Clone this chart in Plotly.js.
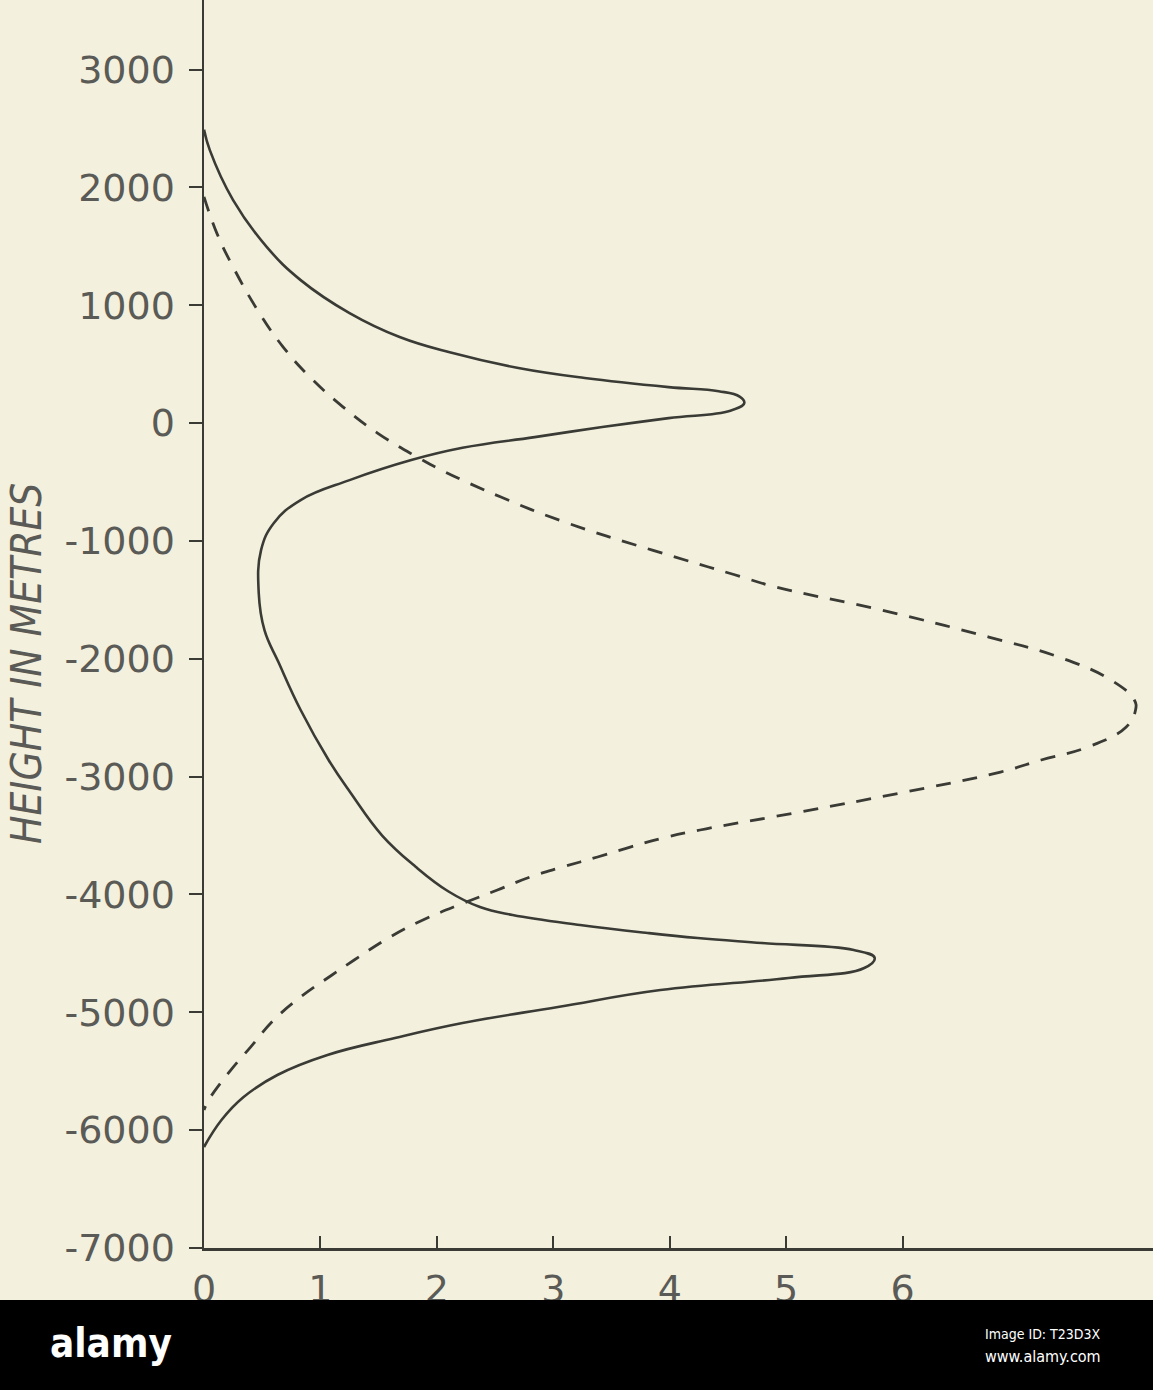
<!DOCTYPE html>
<html>
<head>
<meta charset="utf-8">
<script src="https://cdn.plot.ly/plotly-3.0.1.min.js"></script>
<style>html,body{margin:0;padding:0;background:#f3f0dd;}#chart{width:1153px;height:1390px;}</style>
</head>
<body>
<div id="chart"></div>
<script>
// Solid curve (x = quantity, y = height in metres)
var solidX = [0, 0.05, 0.25, 0.54, 0.83, 1.25, 1.68, 2.11, 2.70, 3.27, 3.99, 4.42, 4.60, 4.64, 4.52, 3.99, 3.42, 2.84, 2.22, 1.78, 1.25, 0.83, 0.60, 0.49, 0.47, 0.52, 0.64, 0.83, 1.07, 1.26, 1.53, 1.82, 2.10, 2.37, 2.65, 3.23, 3.81, 4.24, 4.79, 5.58, 5.76, 5.67, 5.02, 3.92, 3.04, 2.22, 1.64, 1.06, 0.63, 0.34, 0.15, 0];
var solidY = [2490, 2316, 1892, 1493, 1213, 933, 730, 600, 467, 382, 305, 270, 225, 170, 105, 42, -34, -119, -210, -314, -484, -653, -848, -1078, -1442, -1760, -2030, -2435, -2859, -3139, -3500, -3767, -3975, -4107, -4174, -4259, -4327, -4370, -4412, -4471, -4539, -4624, -4709, -4811, -4955, -5091, -5218, -5362, -5532, -5719, -5914, -6143];
// Dashed curve
var dashedX = [0, 0.11, 0.25, 0.46, 0.68, 0.91, 1.19, 1.49, 1.83, 2.03, 2.55, 3.12, 3.85, 4.55, 4.91, 5.82, 6.74, 7.34, 7.79, 7.99, 8.0, 7.92, 7.59, 7.19, 6.84, 5.98, 5.12, 4.26, 3.94, 3.66, 3.38, 3.08, 2.80, 2.52, 2.23, 1.88, 1.60, 1.29, 1.09, 0.83, 0.60, 0.40, 0.23, 0.04, 0];
var dashedY = [1920, 1612, 1324, 959, 645, 390, 140, -85, -288, -395, -628, -848, -1078, -1285, -1391, -1587, -1816, -1985, -2181, -2350, -2435, -2579, -2749, -2859, -2961, -3139, -3300, -3453, -3521, -3598, -3682, -3767, -3852, -3962, -4073, -4217, -4360, -4556, -4690, -4870, -5065, -5295, -5490, -5744, -5829];
// Tick labels
var yTickVals = [3000, 2000, 1000, 0, -1000, -2000, -3000, -4000, -5000, -6000, -7000];
var yTickText = ["3000", "2000", "1000", "0", "-1000", "-2000", "-3000", "-4000", "-5000", "-6000", "-7000"];
var xTickVals = [0, 1, 2, 3, 4, 5, 6];
var xTickText = ["0", "1", "2", "3", "4", "5", "6"];
var yTitle = "HEIGHT IN METRES";

var bg = '#f3f0dd';
var ink = '#3b3b36';
var labelInk = '#5a5a56';

var traces = [
  {x: solidX, y: solidY, mode: 'lines', type: 'scatter',
   line: {color: ink, width: 2.6, shape: 'spline', smoothing: 1.2}, hoverinfo: 'skip'},
  {x: dashedX, y: dashedY, mode: 'lines', type: 'scatter',
   line: {color: ink, width: 2.8, shape: 'spline', smoothing: 1.2, dash: '15px,12px'}, hoverinfo: 'skip'}
];

var layout = {
  width: 1153, height: 1390,
  margin: {l: 204, r: 0, t: 0, b: 142, pad: 0},
  paper_bgcolor: bg, plot_bgcolor: bg,
  showlegend: false,
  xaxis: {
    range: [0, 8.15], showgrid: false, zeroline: false,
    showline: true, linecolor: ink, linewidth: 3,
    tickvals: xTickVals, ticktext: xTickText,
    ticks: 'inside', ticklen: 12, tickwidth: 2, tickcolor: ink,
    ticklabelstandoff: 5,
    tickfont: {family: 'DejaVu Sans', size: 38, color: labelInk}
  },
  yaxis: {
    range: [-7000, 3590], showgrid: false, zeroline: false,
    showline: true, linecolor: ink, linewidth: 2.5,
    tickvals: yTickVals, ticktext: yTickText,
    ticks: 'outside', ticklen: 13, tickwidth: 2, tickcolor: ink,
    ticklabelstandoff: 6,
    tickfont: {family: 'DejaVu Sans', size: 38, color: labelInk}
  },
  shapes: [
    {type: 'rect', xref: 'paper', yref: 'paper', x0: -0.3, x1: 1.05,
     y0: (1248 - 1390) / 1248, y1: (1248 - 1300) / 1248,
     fillcolor: '#000000', line: {width: 0}, layer: 'above'}
  ],
  annotations: [
    {text: yTitle, xref: 'paper', yref: 'paper', x: (26 - 204) / 949, y: (1248 - 664) / 1248,
     xanchor: 'center', yanchor: 'middle', textangle: -90, showarrow: false,
     font: {family: 'DejaVu Sans Condensed', size: 42, color: labelInk, style: 'italic'}},
    {text: '<b>alamy</b>', xref: 'paper', yref: 'paper', x: (48 - 204) / 949, y: (1248 - 1343) / 1248,
     xanchor: 'left', yanchor: 'middle', showarrow: false,
     font: {family: 'DejaVu Sans Condensed', size: 40, color: '#ffffff'}},
    {text: 'Image ID: T23D3X', xref: 'paper', yref: 'paper', x: (1103 - 204) / 949, y: (1248 - 1334) / 1248,
     xanchor: 'right', yanchor: 'middle', showarrow: false,
     font: {family: 'DejaVu Sans Condensed', size: 14, color: '#ffffff'}},
    {text: 'www.alamy.com', xref: 'paper', yref: 'paper', x: (1103 - 204) / 949, y: (1248 - 1356) / 1248,
     xanchor: 'right', yanchor: 'middle', showarrow: false,
     font: {family: 'DejaVu Sans Condensed', size: 16, color: '#ffffff'}}
  ]
};

Plotly.newPlot('chart', traces, layout, {staticPlot: true, displayModeBar: false});
</script>
</body>
</html>
